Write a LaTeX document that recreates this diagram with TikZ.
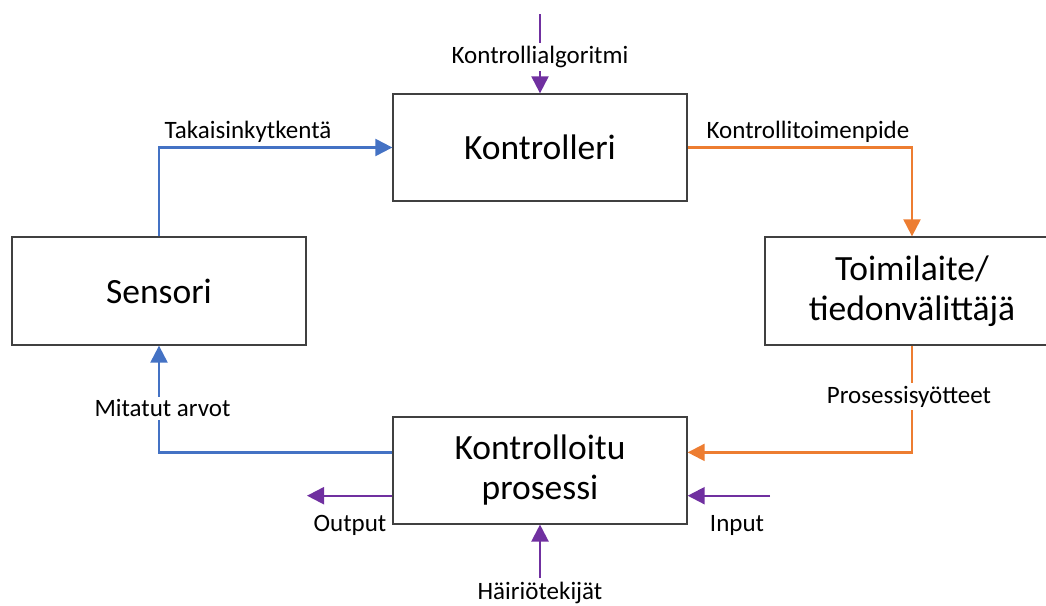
\documentclass[tikz,border=0pt]{standalone}
\usepackage{fontspec}
\setmainfont{Carlito}
\usetikzlibrary{arrows.meta,calc}
\definecolor{fbblue}{HTML}{4472C4}
\definecolor{actorange}{HTML}{ED7D31}
\definecolor{extpurple}{HTML}{7030A0}
\definecolor{boxline}{HTML}{404040}
\begin{document}
\begin{tikzpicture}[x=1pt,y=-1pt,
  blockbox/.style={draw=boxline, line width=1.3pt, minimum width=294pt,
    minimum height=107pt, inner sep=0pt, align=center,
    font=\fontsize{35.5}{40}\selectfont},
  flow/.style={line width=2.2pt, -{Triangle[length=17pt,width=17pt]}},
  lbl/.style={font=\fontsize{25}{28}\selectfont, inner sep=2pt, anchor=base},
  gaplbl/.style={lbl, fill=white, inner sep=3pt},
]
\useasboundingbox (0,0) rectangle (1046,605);

% blocks of the control loop
\node[blockbox] (ctrl) at (540,147.5) {Kontrolleri};
\node[blockbox, minimum height=108pt] (sens) at (159,291) {Sensori};
\node[blockbox, minimum height=108pt] (act) at (912,291) {Toimilaite/\\tiedonvälittäjä};
\node[blockbox] (proc) at (540,470.4) {Kontrolloitu\\prosessi};

% free ends of the external signals
\coordinate (algtop) at (540,14);
\coordinate (outend) at (307,495.7);
\coordinate (instart) at (770,495.7);
\coordinate (disturb) at (540,578);

% loop connectors
\draw[flow, fbblue] (sens.north) |- (ctrl.west);
\draw[flow, actorange] (ctrl.east) -| (act.north);
\draw[flow, actorange] (act.south) |- ([yshift=18pt]proc.east);
\draw[flow, fbblue] ([yshift=18pt]proc.west) -| (sens.south);

% external signals
\draw[flow, extpurple] (algtop) -- (ctrl.north);
\draw[flow, extpurple] ([yshift=-25.3pt]proc.west) -- (outend);
\draw[flow, extpurple] (instart) -- ([yshift=-25.3pt]proc.east);
\draw[flow, extpurple] (disturb) -- (proc.south);

% labels
\node[gaplbl] (lalg) at (540,63.3) {Kontrollialgoritmi};
\node[lbl] (lfb) at (248,138.3) {Takaisinkytkentä};
\node[lbl] (lact) at (808,138.3) {Kontrollitoimenpide};
\node[gaplbl] (lin) at (909,403.3) {Prosessisyötteet};
\node[gaplbl] (lmeas) at (162.5,416.7) {Mitatut arvot};
\node[lbl] (lout) at (350,531.7) {Output};
\node[lbl] (linput) at (737,531.7) {Input};
\node[lbl] (ldist) at (540,599.5) {Häiriötekijät};
\end{tikzpicture}
\end{document}
